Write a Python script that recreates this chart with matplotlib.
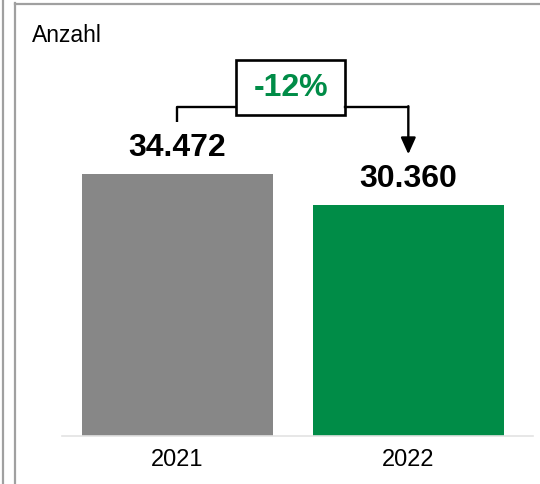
import matplotlib
matplotlib.use("Agg")
import matplotlib.pyplot as plt
from matplotlib.lines import Line2D
from matplotlib.patches import Rectangle

plt.rcParams['font.family'] = ['Liberation Sans', 'DejaVu Sans']

# data
years = ['2021', '2022']
values = [34472, 30360]
labels = ['34.472', '30.360']
change = '-12%'
colors = ['#878787', '#008c47']

W, H = 540, 485
fig = plt.figure(figsize=(W / 100, H / 100), dpi=100)

# axes placed in pixel terms
ax_l, ax_r, ax_b, ax_t = 62, 533, 437, 20
ax = fig.add_axes([ax_l / W, (H - ax_b) / H, (ax_r - ax_l) / W, (ax_b - ax_t) / H])

x = range(len(years))
ax.bar(x, values, width=0.83, color=colors)

px = values[0] / 262.0          # data units per pixel
ax.set_ylim(0, (ax_b - ax_t) * px)
ax.set_xlim(-0.5, 1.54)

for s in ['top', 'right', 'left']:
    ax.spines[s].set_visible(False)
ax.spines['bottom'].set_color('#e3e3e3')
ax.spines['bottom'].set_linewidth(1.2)
ax.set_yticks([])
ax.set_xticks(list(x))
ax.set_xticklabels(years, fontsize=17)
ax.tick_params(axis='x', length=0, pad=9)

# value labels
for i, v in enumerate(values):
    ax.annotate(labels[i], (i, v), xytext=(0, 9), textcoords='offset points',
                ha='center', va='bottom', fontsize=23, fontweight='bold')

# bracket with change
y_br = values[0] + 67 * px
ax.plot([0, 0, 0.255], [values[0] + 52 * px, y_br, y_br], color='black', lw=1.7,
        clip_on=False, solid_capstyle='butt')
ax.plot([0.727, 1], [y_br, y_br], color='black', lw=1.7, clip_on=False)
ax.annotate('', xy=(1, values[1] + 51 * px), xytext=(1, y_br + 0.8 * px),
            arrowprops=dict(arrowstyle='-|>,head_length=1.0,head_width=0.45',
                            color='black', lw=1.7, shrinkA=0, shrinkB=0))
box = Rectangle((0.255, values[0] + 59 * px), 0.472, 55 * px, fill=False,
                edgecolor='black', lw=1.9, clip_on=False)
ax.add_patch(box)
ax.text(0.491, values[0] + 86.5 * px, change, ha='center', va='center',
        fontsize=23, fontweight='bold', color=colors[1])

# "Anzahl" title
fig.text(32 / W, 1 - 42 / H, 'Anzahl', fontsize=16.5, ha='left', va='baseline')

# frame lines
fc = '#a0a0a0'
fig.add_artist(Line2D([3 / W, 3 / W], [0, 1], color=fc, lw=1.6))
fig.add_artist(Line2D([15 / W, 15 / W], [0, 1 - 4 / H], color=fc, lw=1.6))
fig.add_artist(Line2D([15 / W, 1], [1 - 4.5 / H, 1 - 4.5 / H], color=fc, lw=1.6))

fig.savefig('out.png', dpi=100)
